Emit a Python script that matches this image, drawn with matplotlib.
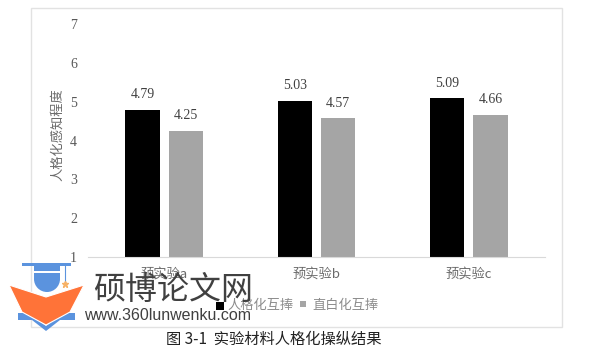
import matplotlib
matplotlib.use('Agg')
import matplotlib.pyplot as plt
from matplotlib.patches import Polygon, Rectangle, Wedge
import numpy as np

plt.rcParams['font.family'] = ['Noto Sans CJK SC', 'DejaVu Sans']

categories = ['预实验a', '预实验b', '预实验c']
humanized = [4.79, 5.03, 5.09]
straight = [4.25, 4.57, 4.66]
series_names = ['人格化互捧', '直白化互捧']
y_ticks = [1, 2, 3, 4, 5, 6, 7]

W, H = 589, 353
fig = plt.figure(figsize=(W / 100, H / 100), dpi=100)

# full figure overlay in pixel coords, for the frame, caption and watermark
bg = fig.add_axes([0, 0, 1, 1], zorder=0)
bg.set_xlim(0, W)
bg.set_ylim(H, 0)
bg.axis('off')
bg.add_patch(Rectangle((31, 8), 531, 319, fc='white', ec='#e2e2e2', lw=1))

ax = fig.add_axes([88 / W, 1 - 257 / H, 457 / W, 233 / H], zorder=1)
ax.patch.set_alpha(0)

ind = np.arange(3)
width = 0.226
offset = 0.143
rects1 = ax.bar(ind - offset, humanized, width, bottom=0, color='black')
rects2 = ax.bar(ind + offset, straight, width, bottom=0, color='#a5a5a5')

ax.set_xlim(-0.5, 2.5)
ax.set_ylim(1, 7)
ax.set_yticks(y_ticks)
ax.set_xticks(ind)
ax.set_xticklabels(categories, fontsize=9.5, color='#6a6a6a')
ax.tick_params(length=0)
ax.tick_params(axis='x', pad=7.5)
ax.tick_params(axis='y', pad=8)
for t in ax.get_yticklabels():
    t.set_fontfamily('Liberation Serif')
    t.set_fontsize(10)
    t.set_color('#595959')
for s in ['top', 'right', 'left']:
    ax.spines[s].set_visible(False)
ax.spines['bottom'].set_color('#d9d9d9')

for r in list(rects1) + list(rects2):
    h = r.get_height()
    ax.text(r.get_x() + r.get_width() / 2, h + 0.22, '%.2f' % h, ha='center', va='bottom',
            fontsize=10, family='Liberation Serif', color='#404040')

# y label and legend
bg.text(58, 135, '人格化感知程度', rotation=90, ha='center', va='center', fontsize=9.5, color='#6a6a6a')
bg.add_patch(Rectangle((216, 302), 8, 8, fc='black', ec='none'))
bg.add_patch(Rectangle((300, 301), 6, 6, fc='#a5a5a5', ec='none'))

top = fig.add_axes([0, 0, 1, 1], zorder=3)
top.set_xlim(0, W)
top.set_ylim(H, 0)
top.axis('off')
top.text(227, 305, series_names[0], ha='left', va='center', fontsize=9.5, color='#8c8c8c')
top.text(312, 305, series_names[1], ha='left', va='center', fontsize=9.5, color='#8c8c8c')

# caption
top.text(274, 339, '图 3-1  实验材料人格化操纵结果', ha='center', va='center', fontsize=11, color='#222222')

# watermark logo
blue = '#5b93de'
orange = '#ff7338'
top.add_patch(Rectangle((22, 263), 49, 3, fc=blue, ec='none'))
top.add_patch(Rectangle((34, 266), 26, 5, fc=blue, ec='none'))
top.add_patch(Rectangle((34, 273), 26, 6, fc=blue, ec='none'))
top.add_patch(Wedge((47, 279), 13, 0, 180, fc=blue, ec='none'))
top.plot([65, 65], [266, 282], color=blue, lw=0.8)
top.plot([65], [284], marker='*', color='#f7b267', ms=5)
top.add_patch(Polygon([(18, 313), (28, 313), (46, 326), (64, 313), (75, 313), (75, 320), (60, 320), (46, 331), (32, 320), (18, 320)], fc=blue, ec='none'))
top.add_patch(Polygon([(9, 285), (46, 297), (84, 285), (70, 312), (46, 325), (22, 312)], fc=orange, ec='white', lw=0.8))
top.text(173, 290, '硕博论文网', ha='center', va='center', fontsize=23, color='#404040')
top.text(168, 316, 'www.360lunwenku.com', ha='center', va='center', fontsize=11.5, color='#404040',
         family=['Liberation Sans', 'DejaVu Sans'])

fig.savefig('out.png', dpi=100)
